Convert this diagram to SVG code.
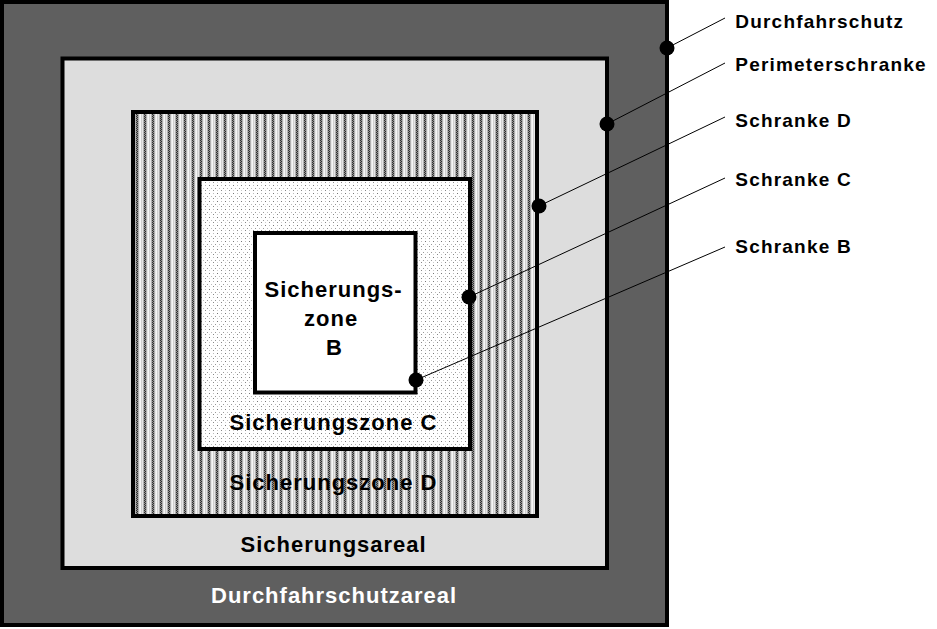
<svg xmlns="http://www.w3.org/2000/svg" width="937" height="629" viewBox="0 0 937 629">
<style>
.box{stroke:#000;stroke-width:4}
.t{font-family:"Liberation Sans",Arial,sans-serif;font-weight:bold;font-size:22px;letter-spacing:1px;fill:#000}
.lbl{font-family:"Liberation Sans",Arial,sans-serif;font-weight:bold;font-size:19px;letter-spacing:1.2px;fill:#000}
.ln{stroke:#000;stroke-width:1;fill:none}
.dot{fill:#000}
</style>
<defs>
<pattern id="hatch" patternUnits="userSpaceOnUse" x="135" y="0" width="8" height="2">
<rect width="8" height="2" fill="#e6e6e6"/>
<rect x="0" width="1" height="2" fill="#b0b0b0"/>
<rect x="1" y="0" width="1" height="1" fill="#303030"/>
<rect x="1" y="1" width="1" height="1" fill="#909090"/>
<rect x="2" y="0" width="1" height="1" fill="#909090"/>
<rect x="2" y="1" width="1" height="1" fill="#303030"/>
<rect x="3" width="1" height="2" fill="#b0b0b0"/>
<rect x="5" width="1" height="2" fill="#f6f6f6"/>
<rect x="6" width="1" height="2" fill="#d0d0d0"/>
</pattern>
<pattern id="dots" patternUnits="userSpaceOnUse" x="0" y="0" width="8" height="8">
<rect width="8" height="8" fill="#fff"/>
<rect x="1" y="1" width="1" height="1" fill="#777"/>
<rect x="5" y="1" width="1" height="1" fill="#bbb"/>
<rect x="3" y="4" width="1" height="1" fill="#bbb"/>
<rect x="7" y="4" width="1" height="1" fill="#999"/>
<rect x="1" y="6" width="1" height="1" fill="#ccc"/>
<rect x="5" y="6" width="1" height="1" fill="#888"/>
</pattern>
</defs>
<rect width="937" height="629" fill="#fff"/>
<g id="durchfahrschutzareal">
<rect class="box" x="2" y="2" width="665" height="623" fill="#5f5f5f"/>
<text class="t" x="211" y="603" style="fill:#fff">Durchfahrschutzareal</text>
</g>
<g id="sicherungsareal">
<rect class="box" x="62.5" y="58.5" width="544.5" height="509.5" fill="#dddddd"/>
<text class="t" x="240.5" y="552">Sicherungsareal</text>
</g>
<g id="sicherungszone-d">
<rect class="box" x="133" y="112" width="404" height="404" fill="url(#hatch)"/>
<text class="t" x="229.5" y="490">Sicherungszone D</text>
</g>
<g id="sicherungszone-c">
<rect class="box" x="199.5" y="179" width="270.5" height="270" fill="url(#dots)"/>
<text class="t" x="229.5" y="430">Sicherungszone C</text>
</g>
<g id="sicherungszone-b">
<rect class="box" x="255" y="233" width="160.5" height="159.5" fill="#fff"/>
<text class="t" x="264.5" y="297">Sicherungs-</text>
<text class="t" x="304" y="326">zone</text>
<text class="t" x="326" y="355">B</text>
</g>
<g id="connectors">
<line class="ln" x1="667" y1="48" x2="725" y2="18"/>
<line class="ln" x1="607" y1="124" x2="725" y2="63"/>
<line class="ln" x1="539" y1="206" x2="725" y2="117"/>
<line class="ln" x1="469" y1="297" x2="725" y2="178"/>
<line class="ln" x1="416" y1="380" x2="725" y2="247"/>
<circle class="dot" cx="667" cy="48" r="7.5"/>
<circle class="dot" cx="607" cy="124" r="7.5"/>
<circle class="dot" cx="539" cy="206" r="7.5"/>
<circle class="dot" cx="469" cy="297" r="7.5"/>
<circle class="dot" cx="416" cy="380" r="7.5"/>
</g>
<g id="labels">
<text class="lbl" x="735.3" y="28">Durchfahrschutz</text>
<text class="lbl" x="735.3" y="71">Perimeterschranke</text>
<text class="lbl" x="735.3" y="127">Schranke D</text>
<text class="lbl" x="735.3" y="186">Schranke C</text>
<text class="lbl" x="735.3" y="253">Schranke B</text>
</g>
</svg>
